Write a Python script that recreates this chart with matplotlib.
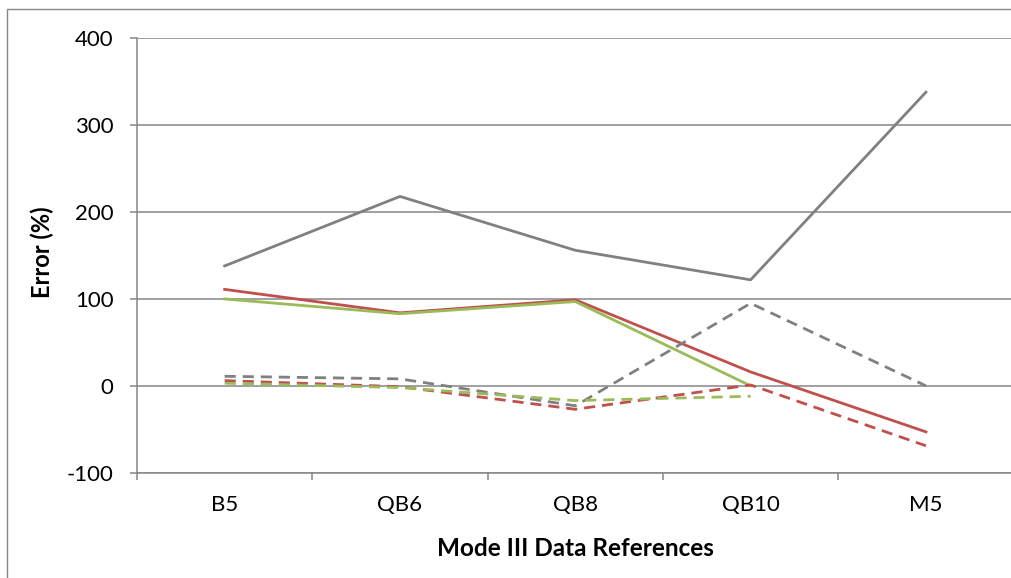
import numpy as np
import matplotlib
matplotlib.use("Agg")
import matplotlib.pyplot as plt
from matplotlib.patches import Rectangle

# Category labels along the x axis
references = ["B5", "QB6", "QB8", "QB10", "M5"]

# Error (%) per reference, solid series
gray_solid = [138, 218, 156, 122, 338]
red_solid = [111, 84, 99, 16, -53]
green_solid = [100, 83, 97, 0, np.nan]

# Error (%) per reference, dashed series
gray_dashed = [11, 8, -23, 95, 0]
red_dashed = [6, -1, -27, 1, -69]
green_dashed = [3, -2, -17, -12, np.nan]

y_ticks = [-100, 0, 100, 200, 300, 400]

GRAY = "#808080"
RED = "#C0504D"
GREEN = "#9BBB59"
AXIS = "#868686"

plt.rcParams["font.family"] = ["Lato", "DejaVu Sans"]

W, H = 1012, 578
fig = plt.figure(figsize=(W / 100, H / 100), dpi=100)

# chart-area frame
fig.patches.append(Rectangle((7 / W, 0 - 0.01), 1.05, 1 - 9 / H + 0.01,
                             transform=fig.transFigure, fill=False,
                             edgecolor=AXIS, linewidth=1.0))

left, right = 137 / W, 1013.6 / W
top, bottom = 1 - 38.3 / H, 1 - 472.7 / H
ax = fig.add_axes([left, bottom, right - left, top - bottom])
ax_h = (top - bottom) * H
ax_w = (right - left) * W

x = np.arange(len(references))
lw = 2.0
dash = (4, 2.5)
ax.plot(x, gray_solid, color=GRAY, lw=lw, zorder=3)
ax.plot(x, red_solid, color=RED, lw=lw, zorder=3)
ax.plot(x, green_solid, color=GREEN, lw=lw, zorder=3)
ax.plot(x, gray_dashed, color=GRAY, lw=lw, dashes=dash, zorder=3)
ax.plot(x, red_dashed, color=RED, lw=lw, dashes=dash, zorder=3)
ax.plot(x, green_dashed, color=GREEN, lw=lw, dashes=dash, zorder=3)

ax.set_xlim(-0.5, len(references) - 0.5)
ax.set_ylim(-100, 400)

ax.set_yticks(y_ticks)
ax.set_yticklabels([str(v) for v in y_ticks])
ax.yaxis.grid(True, color=AXIS, linewidth=1.1)
ax.set_axisbelow(True)

# tick marks between categories, labels at centres
ax.set_xticks(np.arange(-0.5, len(references), 1.0))
ax.set_xticklabels([])
ax.set_xticks(x, minor=True)
ax.set_xticklabels(references, minor=True)
ax.tick_params(axis="x", which="minor", length=0, pad=16, labelsize=16)
ax.tick_params(axis="x", which="major", length=5, width=1.1, color=AXIS,
               direction="out")
ax.tick_params(axis="y", length=5, width=1.1, color=AXIS, direction="out",
               pad=12, labelsize=16)

for side in ("top", "right"):
    ax.spines[side].set_visible(False)
for side in ("left", "bottom"):
    ax.spines[side].set_color(AXIS)
    ax.spines[side].set_linewidth(1.1)

ax.set_xlabel("Mode III Data References", fontsize=17.5, fontweight="bold",
              va="center")
ax.xaxis.set_label_coords((575 / W - left) / (right - left),
                          -(548 - 472.7) / ax_h)
ax.set_ylabel("Error (%)", fontsize=17, fontweight="bold", va="center")
ax.yaxis.set_label_coords((42 / W - left) / (right - left),
                          (472.7 - 252) / ax_h)

fig.savefig("out.png", dpi=100)
